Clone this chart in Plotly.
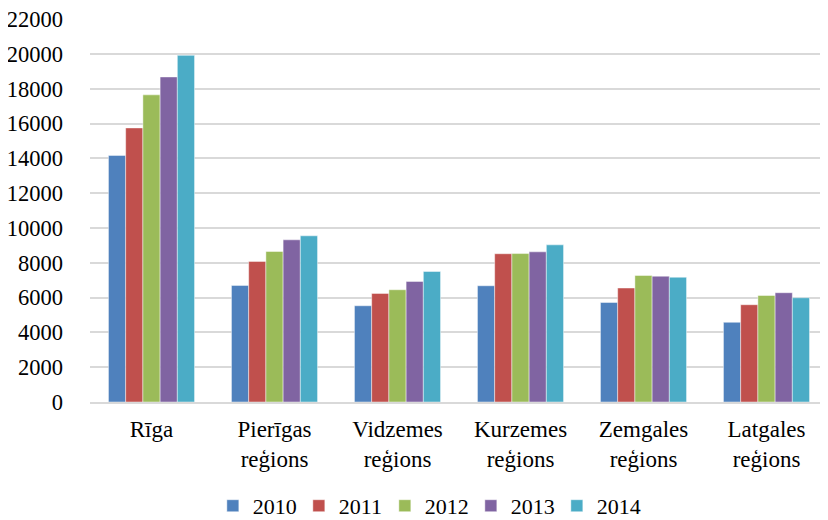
import plotly.graph_objects as go

categories = ["Rīga", "Pierīgas<br>reģions", "Vidzemes<br>reģions", "Kurzemes<br>reģions",
              "Zemgales<br>reģions", "Latgales<br>reģions"]
years = ["2010", "2011", "2012", "2013", "2014"]
v2010 = [14170, 6700, 5530, 6680, 5720, 4580]
v2011 = [15750, 8080, 6240, 8520, 6550, 5590]
v2012 = [17650, 8650, 6450, 8530, 7270, 6120]
v2013 = [18680, 9320, 6930, 8630, 7230, 6280]
v2014 = [19920, 9550, 7500, 9030, 7170, 5990]
series = [v2010, v2011, v2012, v2013, v2014]
colors = ["#4F81BD", "#C0504D", "#9BBB59", "#8064A2", "#4BACC6"]
y_ticks = list(range(0, 22001, 2000))
y_ticktext = [str(v) for v in y_ticks]

fig = go.Figure()
for name, vals, col in zip(years, series, colors):
    fig.add_trace(go.Bar(
        x=categories, y=vals, name=name,
        marker=dict(color=col, line=dict(color="rgba(255,255,255,0.45)", width=1)),
    ))

FF = "Liberation Serif"
fig.update_layout(
    width=820, height=512,
    margin=dict(l=82, r=0, t=11, b=118, autoexpand=False),
    paper_bgcolor="white", plot_bgcolor="white",
    barmode="group", bargap=0.30, bargroupgap=0,
    font=dict(family=FF, size=22, color="#000000"),
    showlegend=True,
    legend=dict(orientation="h", x=0.512, xref="container", xanchor="center",
                y=0.0275, yref="container", yanchor="middle",
                font=dict(family=FF, size=22, color="#000000"),
                entrywidth=41, itemwidth=30),
)
fig.update_yaxes(range=[0, 22010], tickvals=y_ticks, ticktext=y_ticktext,
                 showgrid=True, automargin=False, ticklabeloverflow="allow",
                 gridcolor="#D9D9D9", gridwidth=1.5, zeroline=False,
                 showline=False, ticklabelstandoff=26,
                 tickfont=dict(family=FF, size=22.5, color="#000000"))
fig.update_xaxes(showline=True, linecolor="#D9D9D9", linewidth=1.5,
                 ticks="", ticklabelstandoff=6, automargin=False,
                 tickfont=dict(family=FF, size=23, color="#000000"))

fig.write_html("out.html")
